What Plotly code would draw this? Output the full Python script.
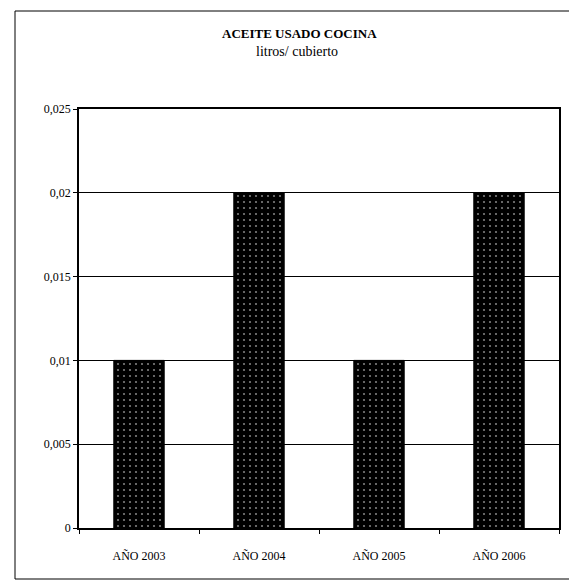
import plotly.graph_objects as go

categories = ["AÑO 2003", "AÑO 2004", "AÑO 2005", "AÑO 2006"]
values = [0.01, 0.02, 0.01, 0.02]
tick_vals = [0, 0.005, 0.01, 0.015, 0.02, 0.025]
tick_text = ["0", "0,005", "0,01", "0,015", "0,02", "0,025"]

SERIF = "Liberation Serif, Times New Roman, serif"

fig = go.Figure()
fig.add_trace(go.Bar(
    x=categories, y=values,
    marker=dict(color="black", line=dict(color="black", width=1),
                pattern=dict(shape=".", fgcolor="white", bgcolor="black",
                             size=6, solidity=0.1)),
    width=0.42,
))

# page body adds an 8px offset; compensate (page coords -> figure coords)
OFF = 8
W, H = 577, 581
PL, PR, PT, PB = 79, 559, 109, 528   # plot area in page pixels
L, T = PL - OFF, PT - OFF
R = W - (PR - OFF)
B = H - (PB - OFF)
pw, ph = W - L - R, H - T - B

def px_x(x):
    return (x - OFF - L) / pw

def px_y(y):
    return (H - B - (y - OFF)) / ph

fig.update_layout(
    width=W, height=H,
    margin=dict(l=L, r=R, t=T, b=B),
    paper_bgcolor="white", plot_bgcolor="white",
    showlegend=False,
    font=dict(family=SERIF, color="black", size=12),
    xaxis=dict(
        showline=True, linecolor="black", linewidth=1.5, mirror=True,
        ticks="outside", ticklen=4, tickcolor="black", tickson="boundaries",
        tickfont=dict(family=SERIF, size=12, color="black"),
        ticklabelstandoff=16,
        showgrid=False,
    ),
    yaxis=dict(
        range=[0, 0.025], tickvals=tick_vals, ticktext=tick_text,
        showline=True, linecolor="black", linewidth=1.5, mirror=True,
        ticks="outside", ticklen=4, tickcolor="black",
        showgrid=True, gridcolor="black", gridwidth=1,
        tickfont=dict(family=SERIF, size=12, color="black"),
        zeroline=False,
    ),
    annotations=[
        dict(text="<b>ACEITE USADO COCINA</b>", xref="paper", yref="paper",
             x=px_x(299), y=px_y(33), xanchor="center", yanchor="middle",
             showarrow=False, font=dict(family=SERIF, size=13, color="black")),
        dict(text="litros/ cubierto", xref="paper", yref="paper",
             x=px_x(297), y=px_y(52), xanchor="center", yanchor="middle",
             showarrow=False, font=dict(family=SERIF, size=14, color="black")),
    ],
    shapes=[dict(
        type="rect", xref="paper", yref="paper",
        x0=px_x(15), x1=px_x(590), y0=px_y(579), y1=px_y(11),
        line=dict(color="black", width=1), fillcolor="rgba(0,0,0,0)",
        layer="below",
    )],
)
fig.write_html("out.html")
